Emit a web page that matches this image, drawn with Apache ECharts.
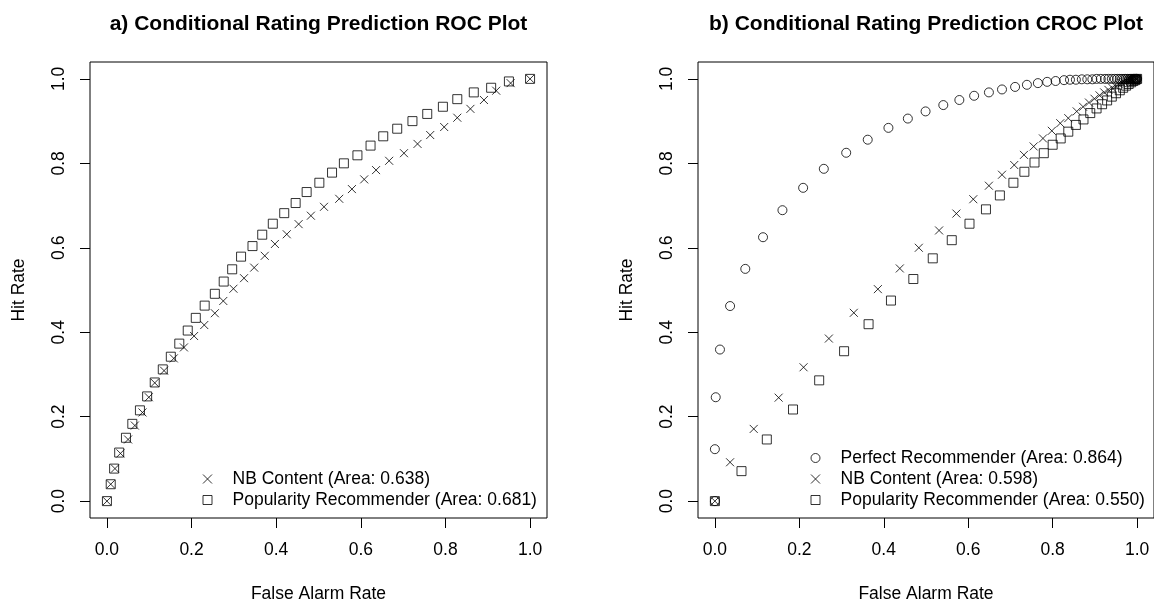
<!DOCTYPE html>
<html>
<head>
<meta charset="utf-8">
<script src="https://cdn.jsdelivr.net/npm/echarts@6/dist/echarts.min.js"></script>
<style>
  html, body { margin: 0; padding: 0; background: #fff; }
  #chart { width: 1154px; height: 608px; }
</style>
</head>
<body>
<div id="chart"></div>
<script>
const axisTicks = [0, 0.2, 0.4, 0.6, 0.8, 1.0];

// a) ROC
const rocNbX = [0, 0.009, 0.019, 0.032, 0.050, 0.066, 0.084, 0.099, 0.113, 0.135, 0.158, 0.182, 0.206, 0.230, 0.255, 0.275, 0.299, 0.324, 0.348, 0.373, 0.397, 0.425, 0.453, 0.482, 0.513, 0.549, 0.579, 0.608, 0.636, 0.667, 0.702, 0.734, 0.764, 0.797, 0.828, 0.859, 0.891, 0.920, 0.954, 1.0];
const rocNbY = [0, 0.040, 0.077, 0.113, 0.146, 0.179, 0.210, 0.246, 0.280, 0.309, 0.338, 0.364, 0.391, 0.417, 0.445, 0.474, 0.503, 0.528, 0.553, 0.581, 0.609, 0.632, 0.656, 0.676, 0.697, 0.716, 0.739, 0.762, 0.784, 0.806, 0.824, 0.846, 0.867, 0.886, 0.908, 0.929, 0.950, 0.972, 0.990, 1.0];
const rocPopX = [0, 0.009, 0.017, 0.029, 0.045, 0.060, 0.078, 0.095, 0.113, 0.132, 0.151, 0.171, 0.191, 0.210, 0.231, 0.255, 0.276, 0.296, 0.317, 0.344, 0.367, 0.392, 0.419, 0.446, 0.472, 0.502, 0.532, 0.560, 0.592, 0.623, 0.653, 0.686, 0.722, 0.757, 0.794, 0.828, 0.867, 0.908, 0.950, 1.0];
const rocPopY = [0, 0.040, 0.077, 0.115, 0.150, 0.183, 0.215, 0.248, 0.281, 0.312, 0.342, 0.373, 0.404, 0.434, 0.463, 0.491, 0.520, 0.549, 0.579, 0.604, 0.631, 0.657, 0.682, 0.706, 0.732, 0.754, 0.778, 0.800, 0.819, 0.842, 0.864, 0.882, 0.900, 0.917, 0.934, 0.952, 0.968, 0.979, 0.994, 1.0];

// b) CROC
const crocPerfX = [0, 0, 0.002, 0.012, 0.036, 0.072, 0.114, 0.160, 0.209, 0.258, 0.311, 0.362, 0.411, 0.457, 0.499, 0.541, 0.579, 0.614, 0.649, 0.680, 0.711, 0.739, 0.765, 0.787, 0.807, 0.827, 0.841, 0.855, 0.869, 0.882, 0.894, 0.904, 0.914, 0.924, 0.932, 0.940, 0.947, 0.953, 0.959, 0.964, 0.969, 0.973, 0.977, 0.981, 0.984, 0.987, 0.990, 0.992, 0.994, 0.996, 0.998, 0.999, 1.0];
const crocPerfY = [0, 0.123, 0.246, 0.359, 0.462, 0.550, 0.625, 0.689, 0.742, 0.787, 0.825, 0.856, 0.884, 0.906, 0.923, 0.938, 0.950, 0.960, 0.968, 0.975, 0.981, 0.986, 0.990, 0.993, 0.995, 0.997, 0.998, 0.998, 0.999, 0.999, 0.999, 1, 1, 1, 1, 1, 1, 1, 1, 1, 1, 1, 1, 1, 1, 1, 1, 1, 1, 1, 1, 1, 1];
const crocNbX = [0, 0.036, 0.092, 0.151, 0.210, 0.270, 0.329, 0.386, 0.438, 0.483, 0.531, 0.572, 0.612, 0.649, 0.680, 0.709, 0.732, 0.755, 0.777, 0.798, 0.818, 0.837, 0.857, 0.872, 0.886, 0.899, 0.911, 0.922, 0.932, 0.941, 0.949, 0.957, 0.964, 0.970, 0.976, 0.981, 0.986, 0.990, 0.994, 0.997, 1.0];
const crocNbY = [0, 0.092, 0.171, 0.245, 0.317, 0.385, 0.446, 0.502, 0.551, 0.600, 0.641, 0.681, 0.715, 0.747, 0.773, 0.796, 0.820, 0.840, 0.859, 0.877, 0.895, 0.907, 0.923, 0.934, 0.944, 0.953, 0.961, 0.968, 0.974, 0.979, 0.983, 0.987, 0.990, 0.992, 0.994, 0.996, 0.997, 0.998, 0.999, 1.0, 1.0];
const crocPopX = [0, 0.063, 0.123, 0.185, 0.247, 0.306, 0.364, 0.417, 0.470, 0.516, 0.561, 0.603, 0.642, 0.675, 0.707, 0.733, 0.757, 0.779, 0.800, 0.819, 0.837, 0.855, 0.873, 0.889, 0.904, 0.917, 0.929, 0.940, 0.950, 0.959, 0.967, 0.974, 0.980, 0.986, 0.991, 0.995, 0.998, 1.0];
const crocPopY = [0, 0.071, 0.146, 0.217, 0.286, 0.355, 0.419, 0.475, 0.526, 0.575, 0.618, 0.657, 0.691, 0.724, 0.754, 0.780, 0.802, 0.824, 0.844, 0.859, 0.875, 0.891, 0.904, 0.919, 0.930, 0.940, 0.949, 0.958, 0.966, 0.973, 0.979, 0.984, 0.988, 0.992, 0.995, 0.997, 0.999, 1.0];

const rocNames = ['NB Content (Area: 0.638)', 'Popularity Recommender (Area: 0.681)'];
const crocNames = ['Perfect Recommender (Area: 0.864)', 'NB Content (Area: 0.598)', 'Popularity Recommender (Area: 0.550)'];

const FONT = '"Liberation Sans", Arial, Helvetica, sans-serif';
const CROSS = 'path://M0,0L10,10M0,10L10,0';
const SQUARE = 'path://M0,0L10,0L10,10L0,10Z';

const pairs = (xs, ys) => xs.map((x, i) => [x, ys[i]]);

const makeSeries = (name, symbol, size, xs, ys, gridIndex) => ({
  name,
  type: 'scatter',
  xAxisIndex: gridIndex,
  yAxisIndex: gridIndex,
  symbol,
  symbolSize: size,
  itemStyle: { color: 'rgba(0,0,0,0)', borderColor: '#000', borderWidth: 1 },
  emphasis: { disabled: true },
  silent: true,
  data: pairs(xs, ys),
});

// R style axis: ticks outside the box, only at 0..1
const axisBase = () => ({
  type: 'value',
  min: -0.04,
  max: 1.04,
  splitLine: { show: false },
  axisLine: { show: false, onZero: false },
  axisTick: { show: true, customValues: axisTicks, length: 10, lineStyle: { color: '#000', width: 1 } },
  nameLocation: 'middle',
  nameTextStyle: { fontSize: 17.5, color: '#000', fontFamily: FONT },
});

const makeXAxis = (gridIndex) => ({
  ...axisBase(),
  gridIndex,
  axisLabel: {
    customValues: axisTicks,
    formatter: (v) => v.toFixed(1),
    margin: 23,
    fontSize: 17.5,
    color: '#000',
    fontFamily: FONT,
  },
  name: 'False Alarm Rate',
  nameGap: 67,
});

const makeYAxis = (gridIndex) => ({
  ...axisBase(),
  gridIndex,
  axisLabel: {
    customValues: axisTicks,
    formatter: (v) => v.toFixed(1),
    rotate: 90,
    margin: 22,
    fontSize: 17.5,
    color: '#000',
    fontFamily: FONT,
  },
  name: 'Hit Rate',
  nameGap: 62,
});

const makeLegend = (names, left, top) => ({
  data: names,
  orient: 'vertical',
  left,
  top,
  padding: 0,
  itemGap: 0,
  itemWidth: 9,
  itemHeight: 9,
  selectedMode: false,
  itemStyle: { borderWidth: 1, borderColor: '#000' },
  textStyle: { fontSize: 17.5, lineHeight: 21, color: '#000', fontFamily: FONT, padding: [0, 0, 0, 15.5] },
});

const titleStyle = { fontSize: 21, fontWeight: 'bold', color: '#000', fontFamily: FONT };

const chart = echarts.init(document.getElementById('chart'), null, { renderer: 'canvas' });

const option = {
  animation: false,
  backgroundColor: '#fff',
  title: [
    { text: 'a) Conditional Rating Prediction ROC Plot', left: 318.5, top: 14, textAlign: 'center', padding: 0, textStyle: titleStyle },
    { text: 'b) Conditional Rating Prediction CROC Plot', left: 926, top: 14, textAlign: 'center', padding: 0, textStyle: titleStyle },
  ],
  grid: [
    { left: 90, top: 62, width: 457, height: 456, show: true, borderColor: '#000', borderWidth: 1, backgroundColor: 'transparent' },
    { left: 698, top: 62, width: 456, height: 456, show: true, borderColor: '#000', borderWidth: 1, backgroundColor: 'transparent' },
  ],
  xAxis: [makeXAxis(0), makeXAxis(1)],
  yAxis: [makeYAxis(0), makeYAxis(1)],
  legend: [
    makeLegend(rocNames, 202.5, 468.5),
    makeLegend(crocNames, 810.5, 447.5),
  ],
  series: [
    makeSeries(rocNames[1], SQUARE, 9, rocPopX, rocPopY, 0),
    makeSeries(rocNames[0], CROSS, 8, rocNbX, rocNbY, 0),
    makeSeries(crocNames[2], SQUARE, 9, crocPopX, crocPopY, 1),
    makeSeries(crocNames[1], CROSS, 8, crocNbX, crocNbY, 1),
    makeSeries(crocNames[0], 'circle', 9, crocPerfX, crocPerfY, 1),
  ],
};

chart.setOption(option);
</script>
</body>
</html>
